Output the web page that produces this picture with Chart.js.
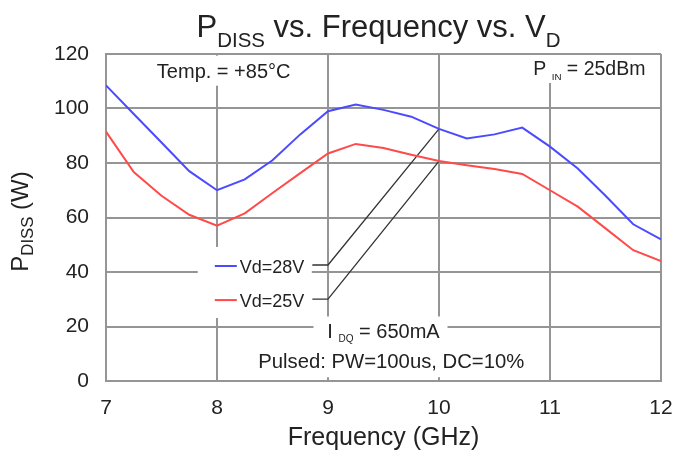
<!DOCTYPE html>
<html>
<head>
<meta charset="utf-8">
<script src="https://cdn.jsdelivr.net/npm/chart.js@4.4.1/dist/chart.umd.min.js"></script>
<style>
  html, body { margin: 0; padding: 0; background: #fff; }
</style>
</head>
<body>
<canvas id="grafico" width="674" height="455"></canvas>
<script>
// Frequência (GHz)
const freq = [7, 7.25, 7.5, 7.75, 8, 8.25, 8.5, 8.75, 9, 9.25, 9.5, 9.75, 10, 10.25, 10.5, 10.75, 11, 11.25, 11.5, 11.75, 12];
// Potência dissipada (W)
const pdissVd28 = [108.5, 98, 87.5, 77, 70, 74, 81, 90.5, 99, 101.5, 99.5, 97, 92.5, 89, 90.5, 93, 86, 78, 68, 57.5, 52];
const pdissVd25 = [91.5, 76.7, 68, 61, 57, 61.5, 69, 76.3, 83.5, 87, 85.5, 83, 80.7, 79.2, 77.8, 76, 70, 64, 56, 48, 44];
const rotulosSerie = ['Vd=28V', 'Vd=25V'];
const coresSerie = ['#4a4aff', '#ff4a4a'];
const ticksX = [7, 8, 9, 10, 11, 12];
const ticksY = [0, 20, 40, 60, 80, 100, 120];

const FAMILIA = '"Liberation Sans", Arial, sans-serif';
const GRADE = '#959595';
const TEXTO = '#222';

// posições das anotações (em unidades do gráfico)
const posTemp = { x: 8.06, y: 111.3 };
const posPin = { x: 11.86, y: 112.3 };
const posLegenda = { x: 7.98, y: [42.2, 29.7] };
const posIdq = { x: 9.5, y: 15.6 };
const posPulsed = { x: 9.57, y: 4.7 };

function textoRico(ctx, partes, x, y, tam, alinh, desloc) {
  // partes: [texto, fator de tamanho (1 = normal)]
  let largura = 0;
  partes.forEach(([t, f]) => {
    ctx.font = (tam * f) + 'px ' + FAMILIA;
    largura += ctx.measureText(t).width;
  });
  let cx = alinh === 'center' ? x - largura / 2 : alinh === 'right' ? x - largura : x;
  ctx.textAlign = 'left';
  ctx.textBaseline = 'alphabetic';
  partes.forEach(([t, f]) => {
    ctx.font = (tam * f) + 'px ' + FAMILIA;
    ctx.fillText(t, cx, f < 1 ? y + desloc : y);
    cx += ctx.measureText(t).width;
  });
  return { x0: cx - largura, largura };
}

function caixa(ctx, x, y, w, h) {
  ctx.fillStyle = '#fff';
  ctx.fillRect(x, y, w, h);
}

const anotacoes = {
  id: 'anotacoes',
  beforeDatasetsDraw(chart) {
    const ctx = chart.ctx;
    const sx = v => chart.scales.x.getPixelForValue(v);
    const sy = v => chart.scales.y.getPixelForValue(v);
    ctx.save();

    // Temp.
    const tx = sx(posTemp.x), ty = sy(posTemp.y);
    ctx.font = '20px ' + FAMILIA;
    const wTemp = ctx.measureText('Temp. = +85°C').width;
    caixa(ctx, tx - wTemp / 2 - 6, ty - 22, wTemp + 12, 30);
    ctx.fillStyle = TEXTO;
    textoRico(ctx, [['Temp. = +85°C', 1]], tx, ty, 20, 'center', 0);

    // P_IN
    const px = sx(posPin.x), py = sy(posPin.y);
    caixa(ctx, px - 122, py - 20, 126, 28);
    ctx.fillStyle = TEXTO;
    textoRico(ctx, [['P', 1], ['  IN', 0.5], [' = 25dBm', 1]], px, py, 19.5, 'right', 5);

    // legenda
    const lx = sx(posLegenda.x);
    caixa(ctx, lx - 17, sy(posLegenda.y[0]) - 19, 114, 71);
    const dadosSerie = [pdissVd28, pdissVd25];
    const i10 = freq.indexOf(10);
    posLegenda.y.forEach((v, k) => {
      const ly = sy(v);
      ctx.strokeStyle = coresSerie[k];
      ctx.lineWidth = 2;
      ctx.beginPath();
      ctx.moveTo(lx, ly);
      ctx.lineTo(lx + 22, ly);
      ctx.stroke();
      ctx.fillStyle = TEXTO;
      const r = textoRico(ctx, [[rotulosSerie[k], 1]], lx + 25, ly + 7, 18, 'left', 0);
      // linha de chamada até o ponto em 10 GHz
      ctx.strokeStyle = '#333';
      ctx.lineWidth = 1.3;
      ctx.beginPath();
      ctx.moveTo(r.x0 + r.largura + 8, ly - 1);
      ctx.lineTo(sx(9), ly - 1);
      ctx.lineTo(sx(10), sy(dadosSerie[k][i10]));
      ctx.stroke();
    });

    // I_DQ e pulsado
    const ix = sx(posIdq.x), iy = sy(posIdq.y);
    caixa(ctx, ix - 70, iy - 22, 134, 32);
    const qx = sx(posPulsed.x), qy = sy(posPulsed.y);
    ctx.font = '20px ' + FAMILIA;
    const wPul = ctx.measureText('Pulsed: PW=100us, DC=10%').width;
    caixa(ctx, qx - wPul / 2 - 8, qy - 21, wPul + 16, 30);
    ctx.fillStyle = TEXTO;
    textoRico(ctx, [['I', 1], ['  DQ', 0.5], [' = 650mA', 1]], ix, iy, 20, 'center', 4);
    textoRico(ctx, [['Pulsed: PW=100us, DC=10%', 1]], qx, qy, 20.3, 'center', 0);

    ctx.restore();
  },
  afterDraw(chart) {
    const ctx = chart.ctx;
    const area = chart.chartArea;
    ctx.save();
    ctx.fillStyle = TEXTO;
    // título
    textoRico(ctx, [['P', 1], ['DISS', 0.66], [' vs. Frequency vs. V', 1], ['D', 0.66]],
      (area.left + area.right) / 2 - 5, 37, 31, 'center', 10);
    // título do eixo Y
    ctx.translate(28, (area.top + area.bottom) / 2 + 4);
    ctx.rotate(-Math.PI / 2);
    textoRico(ctx, [['P', 1], ['DISS', 0.7], [' (W)', 1]], 0, 0, 24, 'center', 5);
    ctx.restore();
  }
};

const ctx = document.getElementById('grafico').getContext('2d');
new Chart(ctx, {
  type: 'line',
  data: {
    datasets: [pdissVd28, pdissVd25].map((serie, k) => ({
      label: rotulosSerie[k],
      data: serie.map((v, i) => ({ x: freq[i], y: v })),
      borderColor: coresSerie[k],
      borderWidth: 2,
      pointRadius: 0,
      tension: 0,
      fill: false
    }))
  },
  options: {
    responsive: false,
    animation: false,
    layout: { padding: { top: 54, right: 13, bottom: 0, left: 0 } },
    plugins: {
      legend: { display: false },
      tooltip: { enabled: false }
    },
    scales: {
      x: {
        type: 'linear',
        min: ticksX[0],
        max: ticksX[ticksX.length - 1],
        afterFit: s => { s.height = 74; s.paddingLeft = 0; s.paddingRight = 0; },
        afterBuildTicks: s => { s.ticks = ticksX.map(v => ({ value: v })); },
        ticks: { padding: 15, color: TEXTO, font: { family: FAMILIA, size: 21 } },
        grid: { color: GRADE, lineWidth: 2, drawTicks: false },
        border: { color: GRADE, width: 2 },
        title: {
          display: true,
          text: 'Frequency (GHz)',
          color: TEXTO,
          font: { family: FAMILIA, size: 25 },
          padding: { top: 0, bottom: 2 }
        }
      },
      y: {
        min: ticksY[0],
        max: ticksY[ticksY.length - 1],
        afterFit: s => { s.width = 106; },
        afterBuildTicks: s => { s.ticks = ticksY.map(v => ({ value: v })); },
        ticks: { padding: 17, color: TEXTO, font: { family: FAMILIA, size: 21 } },
        grid: { color: GRADE, lineWidth: 2, drawTicks: false },
        border: { color: GRADE, width: 2 }
      }
    }
  },
  plugins: [anotacoes]
});
</script>
</body>
</html>
